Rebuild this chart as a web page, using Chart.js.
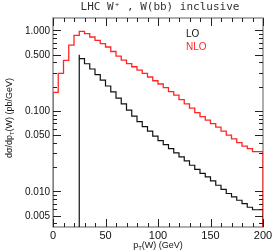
<!DOCTYPE html>
<html>
<head>
<meta charset="utf-8">
<script src="https://cdn.jsdelivr.net/npm/chart.js@4"></script>
<style>
html, body { margin: 0; padding: 0; background: #fff; }
#wrap { width: 273px; height: 251px; }
</style>
</head>
<body>
<div id="wrap"><canvas id="ptChart" width="273" height="251"></canvas></div>
<script>
// lower bin edges in GeV (5 GeV bins), last bin closes at 200
const binEdges = [0, 5, 10, 15, 20, 25, 30, 35, 40, 45, 50, 55, 60, 65, 70, 75, 80, 85, 90, 95,
    100, 105, 110, 115, 120, 125, 130, 135, 140, 145, 150, 155, 160, 165, 170, 175, 180, 185, 190, 195];
const binEnd = 200;

// d sigma / d pT(W) in pb/GeV
const nloValues = [0.0533, 0.170, 0.293, 0.425, 0.656, 0.871, 0.977, 0.912, 0.830, 0.755,
    0.685, 0.623, 0.548, 0.481, 0.429, 0.388, 0.354, 0.322, 0.293, 0.264,
    0.237, 0.216, 0.195, 0.174, 0.157, 0.138, 0.122, 0.108, 0.0953, 0.0849,
    0.0768, 0.0695, 0.0628, 0.0560, 0.0500, 0.0448, 0.0403, 0.0365, 0.0340, 0.0311];
const loValues = [null, null, null, null, null, 0.500, 0.446, 0.386, 0.332, 0.283,
    0.242, 0.204, 0.172, 0.144, 0.122, 0.102, 0.0861, 0.0736, 0.0637, 0.0560,
    0.0485, 0.0427, 0.0380, 0.0340, 0.0301, 0.0268, 0.0239, 0.0211, 0.0187, 0.0167,
    0.0151, 0.0135, 0.0119, 0.0106, 0.00939, 0.00851, 0.00774, 0.00705, 0.00634, 0.00590];

const xMajorTicks = [0, 50, 100, 150, 200];
const xMinorTicks = [10, 20, 30, 40, 60, 70, 80, 90, 110, 120, 130, 140, 160, 170, 180, 190];
const yMajorTicks = [1, 0.5, 0.1, 0.05, 0.01, 0.005];
const yTickLabels = ['1.000', '0.500', '0.100', '0.050', '0.010', '0.005'];
const yMinorTicks = [0.9, 0.8, 0.7, 0.6, 0.4, 0.3, 0.2, 0.09, 0.08, 0.07, 0.06, 0.04, 0.03, 0.02,
    0.009, 0.008, 0.007, 0.006, 0.004];

const Y_MIN = 0.0036;
const Y_MAX = 1.43;

const RED = '#ff2626';
const BLACK = '#111';

// turn bin contents into a closed step outline that drops to the axis at both ends
function histPoints(values) {
    const pts = [];
    values.forEach((v, i) => {
        if (v === null) return;
        if (!pts.length) pts.push({ x: binEdges[i], y: Y_MIN });
        pts.push({ x: binEdges[i], y: v });
    });
    const last = values[values.length - 1];
    pts.push({ x: binEnd, y: last });
    pts.push({ x: binEnd, y: Y_MIN });
    return pts;
}

// draws a string made of normal and subscript parts
function richText(ctx, parts, x, y, size, align) {
    const full = `${size}px "Liberation Sans", Arial, sans-serif`;
    const small = `${Math.round(size * 0.72)}px "Liberation Sans", Arial, sans-serif`;
    let width = 0;
    parts.forEach(p => {
        ctx.font = p.sub ? small : full;
        width += ctx.measureText(p.t).width;
    });
    let cx = align === 'center' ? x - width / 2 : x;
    ctx.textAlign = 'left';
    ctx.textBaseline = 'alphabetic';
    parts.forEach(p => {
        ctx.font = p.sub ? small : full;
        ctx.fillText(p.t, cx, p.sub ? y + size * 0.25 : y);
        cx += ctx.measureText(p.t).width;
    });
}

const framePlugin = {
    id: 'frame',
    beforeDatasetsDraw(chart) {
        const { ctx, chartArea: a } = chart;
        ctx.save();
        ctx.strokeStyle = '#9a9a9a';
        ctx.lineWidth = 1.6;
        ctx.strokeRect(a.left, a.top, a.right - a.left, a.bottom - a.top);
        ctx.restore();
    },
    afterDatasetsDraw(chart) {
        const { ctx, chartArea: a, scales } = chart;
        const xs = scales.x, ys = scales.y;
        ctx.save();
        ctx.strokeStyle = '#222';
        ctx.lineWidth = 1;
        ctx.beginPath();
        const xTick = (v, len) => {
            const px = Math.round(xs.getPixelForValue(v)) + 0.5;
            ctx.moveTo(px, a.bottom); ctx.lineTo(px, a.bottom - len);
            ctx.moveTo(px, a.top); ctx.lineTo(px, a.top + len);
        };
        const yTick = (v, len) => {
            const py = Math.round(ys.getPixelForValue(v)) + 0.5;
            ctx.moveTo(a.left, py); ctx.lineTo(a.left + len, py);
            ctx.moveTo(a.right, py); ctx.lineTo(a.right - len, py);
        };
        xMajorTicks.forEach(v => xTick(v, 8));
        xMinorTicks.forEach(v => xTick(v, 4));
        yMajorTicks.forEach(v => yTick(v, 8));
        yMinorTicks.forEach(v => yTick(v, 4));
        ctx.stroke();

        ctx.fillStyle = '#111';
        ctx.font = '10px "Liberation Sans", Arial, sans-serif';
        ctx.textAlign = 'right';
        ctx.textBaseline = 'middle';
        yMajorTicks.forEach((v, i) => {
            ctx.fillText(yTickLabels[i], a.left - 3, ys.getPixelForValue(v) + 0.5);
        });
        ctx.font = '11px "Liberation Sans", Arial, sans-serif';
        ctx.textAlign = 'center';
        ctx.textBaseline = 'top';
        xMajorTicks.forEach(v => {
            ctx.fillText(String(v), xs.getPixelForValue(v), a.bottom + 3);
        });

        // axis titles
        richText(ctx, [{ t: 'p' }, { t: 'T', sub: true }, { t: '(W) (GeV)' }],
            (a.left + a.right) / 2, a.bottom + 21, 9, 'center');
        ctx.save();
        ctx.translate(12, 118);
        ctx.rotate(-Math.PI / 2);
        richText(ctx, [{ t: 'd\u03c3/dp' }, { t: 'T', sub: true }, { t: '(W) (pb/GeV)' }],
            0, 0, 9, 'center');
        ctx.restore();

        // title
        ctx.fillStyle = '#333';
        ctx.font = '11px "DejaVu Sans Mono", monospace';
        ctx.textAlign = 'center';
        ctx.textBaseline = 'middle';
        ctx.fillText('LHC W\u207a , W(bb) inclusive', 160, 7);

        // series labels
        ctx.font = '10px "Liberation Sans", Arial, sans-serif';
        ctx.textAlign = 'left';
        ctx.fillStyle = BLACK;
        ctx.fillText('LO', 186, 34);
        ctx.fillStyle = RED;
        ctx.fillText('NLO', 186, 47);
        ctx.restore();
    }
};

new Chart(document.getElementById('ptChart'), {
    type: 'line',
    data: {
        datasets: [{
            label: 'NLO',
            data: histPoints(nloValues),
            borderColor: RED,
            borderWidth: 1.3,
            stepped: 'after',
            pointRadius: 0,
            fill: false
        }, {
            label: 'LO',
            data: histPoints(loValues),
            borderColor: BLACK,
            borderWidth: 1.2,
            stepped: 'after',
            pointRadius: 0,
            fill: false
        }]
    },
    options: {
        responsive: false,
        animation: false,
        events: [],
        layout: { padding: { left: 53, top: 18, right: 10, bottom: 24 } },
        plugins: {
            legend: { display: false },
            tooltip: { enabled: false }
        },
        scales: {
            x: { type: 'linear', min: 0, max: 200, display: false },
            y: { type: 'logarithmic', min: Y_MIN, max: Y_MAX, display: false }
        }
    },
    plugins: [framePlugin]
});
</script>
</body>
</html>
